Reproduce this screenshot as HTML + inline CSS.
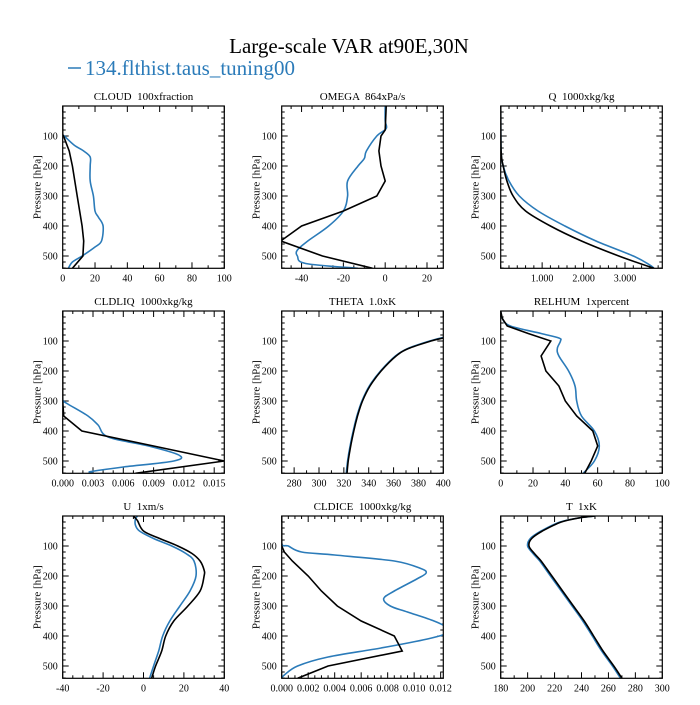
<!DOCTYPE html>
<html><head><meta charset="utf-8"><style>
body{margin:0;background:#fff;}
svg text{font-family:"Liberation Serif",serif;fill:#000;white-space:pre;}
</style></head><body>
<svg id="chart" width="700" height="700" viewBox="0 0 700 700" xmlns="http://www.w3.org/2000/svg">
<text x="349" y="53" font-size="21" text-anchor="middle">Large-scale VAR at90E,30N</text>
<g>
<line x1="68" y1="68" x2="81" y2="68" stroke="#2b7bb9" stroke-width="1.5"/>
<text x="85" y="75" font-size="21" style="fill:#2b7bb9">134.flthist.taus_tuning00</text>
</g>
</svg>
<script>
const pTicks=[100,200,300,400,500];
const pMax=541;
const titles=["CLOUD  100xfraction","OMEGA  864xPa/s","Q  1000xkg/kg","CLDLIQ  1000xkg/kg","THETA  1.0xK","RELHUM  1xpercent","U  1xm/s","CLDICE  1000xkg/kg","T  1xK"];
const xRanges=[[0,100],[-49.5,27.8],[0,3.9],[0,0.016],[270,400],[0,100],[-40,40],[0,0.0122],[180,300]];
const xTicks=[[0,20,40,60,80,100],[-40,-20,0,20],[1,2,3],[0,0.003,0.006,0.009,0.012,0.015],[280,300,320,340,360,380,400],[0,20,40,60,80,100],[-40,-20,0,20,40],[0,0.002,0.004,0.006,0.008,0.010,0.012],[180,200,220,240,260,280,300]];
const xTickLabels=[["0","20","40","60","80","100"],["-40","-20","0","20"],["1.000","2.000","3.000"],["0.000","0.003","0.006","0.009","0.012","0.015"],["280","300","320","340","360","380","400"],["0","20","40","60","80","100"],["-40","-20","0","20","40"],["0.000","0.002","0.004","0.006","0.008","0.010","0.012"],["180","200","220","240","260","280","300"]];
const xMinor=[10,5,0.2,0.001,10,10,5,0.0005,10];
const blackSmooth=[false,false,true,false,true,false,true,false,true];
const blackP=[
[0,95,100,150,200,300,400,450,500,541],
[0,80,100,150,200,250,300,350,400,450,500,541],
[0,150,200,250,300,350,400,450,500,541],
[0,300,350,400,450,500,541],
[90,100,125,150,200,250,300,350,400,450,500,541],
[0,25,50,75,100,150,200,250,300,350,400,450,500,541],
[0,15,50,75,100,125,150,180,200,250,300,350,400,450,500,541],
[0,100,120,150,200,250,300,350,400,450,500,541],
[0,5,20,50,75,100,125,150,200,250,300,350,400,450,500,541]];
const blackV=[
[0,0,0.5,4,6,9,12,13,12.5,6],
[0.5,0,-2,-3,-2,0,-4,-20,-40,-50,-30,-6],
[0,0.01,0.06,0.15,0.3,0.6,1.2,1.95,2.85,3.7],
[0,0,0.0001,0.0019,0.009,0.016,0.0072],
[400,390,372,362,350,341,335,331,328,325.5,323.5,322.5],
[0,1,4,17,31,25,28,36,40,47,57,60,56,52],
[-5,-3,0,8,17,24,28,30,30,28,22,15,11,9,6,4],
[0,0,0.0002,0.0008,0.002,0.003,0.0042,0.006,0.0085,0.0091,0.0035,0.0012],
[250,240,225,211,203,201,205,210,218,226,234,242,249,256,264,270]];
const blueP=[
[0,95,100,130,150,170,200,250,300,350,370,400,450,470,500,520,541],
[0,50,75,100,150,175,200,250,300,350,400,450,480,500,525,541],
[0,150,200,250,300,350,400,450,500,530,541],
[0,280,300,310,350,380,420,450,480,500,520,535,538],
[88,100,125,150,200,250,300,350,400,450,500,541],
[0,25,50,75,90,100,125,150,200,250,300,350,400,450,500,541],
[0,10,30,50,75,100,125,150,200,250,300,350,400,450,500,541],
[0,90,100,120,130,150,175,190,210,250,275,300,320,350,370,390,410,440,470,500,530,541],
[0,5,20,50,75,100,125,150,200,250,300,350,400,450,500,541]];
const blueV=[
[0,0,1,7,13,17,17,17,19,20,22,25,24,20,12,6,3.5],
[0,0,0.5,-4,-9,-10,-13,-18,-18,-20,-27,-37,-42,-42,-38,-13],
[0,0.01,0.06,0.2,0.45,0.9,1.55,2.3,3.2,3.6,3.7],
[0,0,0.0001,0.0005,0.0025,0.0035,0.0045,0.0085,0.0115,0.011,0.006,0.0028,0.003],
[400,389,371.5,361.5,349.5,340.5,334.5,330.5,327.5,325,323,322],
[0,1,6,25,36,37,35,36,42,46,47,50,58,61,58,51],
[-3,-4,-4,-2,5,14,21,25,26,23,18,13,9.5,7.5,5,3],
[0,0,0.0005,0.0015,0.004,0.0085,0.0105,0.0109,0.0102,0.0085,0.0077,0.0082,0.0095,0.0115,0.0124,0.0125,0.011,0.0075,0.0035,0.0012,0.0002,0],
[250,240,224,210,202,200,204,209,217,225,233,241,248,255,263,269]];

const NS="http://www.w3.org/2000/svg";
const svg=document.getElementById('chart');
const lefts=[62.7,281.7,500.7], tops=[106,311,516], W=161.6, H=162.3;
function mk(tag,attrs,parent){const e=document.createElementNS(NS,tag);for(const k in attrs)e.setAttribute(k,attrs[k]);parent.appendChild(e);return e;}
function pathD(pts,smooth){
  let d='M'+pts[0][0].toFixed(1)+','+pts[0][1].toFixed(1);
  for(let k=0;k<pts.length-1;k++){
    const p0=pts[Math.max(0,k-1)],p1=pts[k],p2=pts[k+1],p3=pts[Math.min(pts.length-1,k+2)];
    if(!smooth){d+=' L'+p2[0].toFixed(1)+','+p2[1].toFixed(1);continue;}
    const c1=[p1[0]+(p2[0]-p0[0])/6,p1[1]+(p2[1]-p0[1])/6];
    const c2=[p2[0]-(p3[0]-p1[0])/6,p2[1]-(p3[1]-p1[1])/6];
    d+=' C'+c1.map(v=>v.toFixed(1)).join(',')+' '+c2.map(v=>v.toFixed(1)).join(',')+' '+p2[0].toFixed(1)+','+p2[1].toFixed(1);
  }
  return d;
}
for(let i=0;i<9;i++){
  const L=lefts[i%3], T=tops[Math.floor(i/3)];
  const [x0,x1]=xRanges[i];
  const xs=v=>L+(v-x0)/(x1-x0)*W;
  const ys=p=>T+p/pMax*H;
  const g=mk('g',{},svg);
  
  
  const cid='c'+i;
  const cp=mk('clipPath',{id:cid},g);mk('rect',{x:L,y:T,width:W,height:H},cp);
  const t=mk('text',{x:L+W/2,y:T-6,'font-size':11,'text-anchor':'middle'},g);t.textContent=titles[i];
  
  
  const yl=mk('text',{x:0,y:0,'font-size':11,'text-anchor':'middle',transform:`translate(${L-22},${T+H/2}) rotate(-90)`},g);yl.textContent='Pressure [hPa]';
  
  
  for(let p=20;p<pMax;p+=20){const y=ys(p);const major=p%100===0;const len=major?6:3;
    mk('line',{x1:L,y1:y,x2:L+len,y2:y,stroke:'#000','stroke-width':1},g);
    mk('line',{x1:L+W,y1:y,x2:L+W-len,y2:y,stroke:'#000','stroke-width':1},g);}
  pTicks.forEach(p=>{const tt=mk('text',{x:L-5,y:ys(p)+3.5,'font-size':10,'text-anchor':'end'},g);tt.textContent=p;
    
    });
  const m=xMinor[i];const start=Math.ceil(x0/m-1e-6);
  for(let k=start;k*m<=x1+1e-9;k++){const v=k*m;const x=xs(v);
    const isMaj=xTicks[i].some(tv=>Math.abs(tv-v)<m*1e-3);const len=isMaj?6:3;
    mk('line',{x1:x,y1:T+H,x2:x,y2:T+H-len,stroke:'#000','stroke-width':1},g);
    mk('line',{x1:x,y1:T,x2:x,y2:T+len,stroke:'#000','stroke-width':1},g);}
  xTicks[i].forEach((v,j)=>{const tt=mk('text',{x:xs(v),y:T+H+13,'font-size':10,'text-anchor':'middle'},g);tt.textContent=xTickLabels[i][j];
    
    });
  const bpts=blueP[i].map((p,j)=>[xs(blueV[i][j]),ys(p)]);
  const blue=mk('path',{d:pathD(bpts,true),fill:'none',stroke:'#2b7bb9','stroke-width':1.6,'clip-path':`url(#${cid})`},g);
  
  
  const kpts=blackP[i].map((p,j)=>[xs(blackV[i][j]),ys(p)]);
  const blk=mk('path',{d:pathD(kpts,blackSmooth[i]),fill:'none',stroke:'#000','stroke-width':1.6,'clip-path':`url(#${cid})`},g);
  
  
  const fr=mk('rect',{x:L,y:T,width:W,height:H,fill:'none',stroke:'#000','stroke-width':1.2},g);
  
  
}
</script>
</body></html>
